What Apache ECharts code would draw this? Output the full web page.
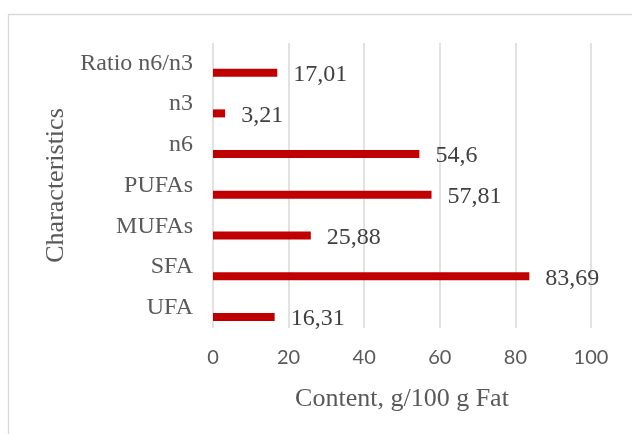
<!DOCTYPE html>
<html>
<head>
<meta charset="utf-8">
<script src="https://cdn.jsdelivr.net/npm/echarts@6/dist/echarts.min.js"></script>
<style>
  html, body { margin: 0; padding: 0; background: #ffffff; }
  #chart { width: 632px; height: 434px; }
</style>
</head>
<body>
<div id="chart"></div>
<script>
// Fatty acid profile, g per 100 g fat
const categories = ['UFA', 'SFA', 'MUFAs', 'PUFAs', 'n6', 'n3', 'Ratio n6/n3'];
const contentValues = [16.31, 83.69, 25.88, 57.81, 54.6, 3.21, 17.01];
const axisTicks = [0, 20, 40, 60, 80, 100];

const chart = echarts.init(document.getElementById('chart'), null, { renderer: 'canvas' });

const serif = '"Liberation Serif", "Times New Roman", serif';
const sans = 'Lato, "Open Sans", sans-serif';

chart.setOption({
  animation: false,
  backgroundColor: '#ffffff',
  graphic: [{
    type: 'rect',
    shape: { x: 8.5, y: 14.5, width: 700, height: 500 },
    style: { fill: 'none', stroke: '#d9d9d9', lineWidth: 1.3 },
    silent: true,
    z: -10
  }],
  grid: { left: 213, right: 41, top: 43, bottom: 106, containLabel: false },
  xAxis: {
    type: 'value',
    min: axisTicks[0],
    max: axisTicks[axisTicks.length - 1],
    interval: axisTicks[1] - axisTicks[0],
    axisLine: { show: false },
    axisTick: { show: false },
    splitLine: { show: true, lineStyle: { color: '#d9d9d9', width: 1.5 } },
    axisLabel: {
      color: '#595959', fontFamily: sans, fontSize: 20, margin: 20
    },
    name: 'Content, g/100 g Fat',
    nameLocation: 'middle',
    nameGap: 58,
    nameTextStyle: { color: '#595959', fontFamily: serif, fontSize: 26 }
  },
  yAxis: {
    type: 'category',
    data: categories,
    axisLine: { show: false },
    axisTick: { show: false },
    splitLine: { show: false },
    axisLabel: {
      color: '#595959', fontFamily: serif, fontSize: 24, margin: 20
    },
    name: 'Characteristics',
    nameLocation: 'middle',
    nameGap: 142,
    nameRotate: 90,
    nameTextStyle: { color: '#595959', fontFamily: serif, fontSize: 26 }
  },
  series: [
    {
      // empty companion slot so the bars sit in the lower part of each band
      type: 'bar',
      data: categories.map(() => '-'),
      barWidth: 8,
      barGap: '133%',
      silent: true
    },
    {
      type: 'bar',
      name: 'Content',
      data: contentValues,
      barWidth: 8,
      barGap: '133%',
      itemStyle: { color: '#C00000' },
      label: {
        show: true,
        position: 'right',
        distance: 16,
        offset: [0, 2],
        color: '#404040',
        fontFamily: serif,
        fontSize: 24,
        formatter: p => String(p.value).replace('.', ',')
      }
    }
  ]
});
</script>
</body>
</html>
